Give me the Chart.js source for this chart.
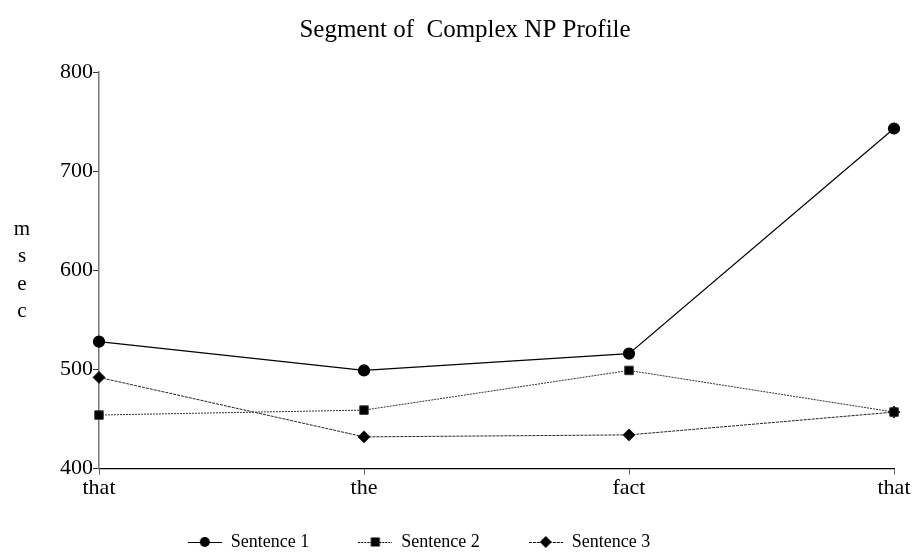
<!DOCTYPE html>
<html>
<head>
<meta charset="utf-8">
<script src="https://cdn.jsdelivr.net/npm/chart.js@4.4.1/dist/chart.umd.min.js"></script>
<style>
  html, body { margin: 0; padding: 0; background: #fff; }
  #wrap { width: 914px; height: 552px; position: relative; }
</style>
</head>
<body>
<div id="wrap"><canvas id="profile-chart"></canvas></div>
<script>
// Segment of Complex NP Profile
// ------------------------------
var words = ["that", "the", "fact", "that"];
var sentence1 = [528, 499, 516, 743];
var sentence2 = [454, 459, 499, 457];
var sentence3 = [492, 432, 434, 457];
var yTicks = [400, 500, 600, 700, 800];
var yTitle = ["m", "s", "e", "c"];

var serif = "'Liberation Serif', 'Times New Roman', serif";

// small legend glyph: line with the marker in the middle
function legendGlyph(style, dash) {
    var c = document.createElement("canvas");
    c.width = 34; c.height = 14;
    var g = c.getContext("2d");
    g.strokeStyle = "#000";
    g.lineWidth = 1;
    g.setLineDash(dash);
    g.beginPath(); g.moveTo(0, 7.5); g.lineTo(34, 7.5); g.stroke();
    g.fillStyle = "#000";
    g.beginPath();
    if (style === "circle") g.arc(17, 7, 5, 0, Math.PI * 2);
    else if (style === "rect") g.rect(12.5, 2.5, 9, 9);
    else { g.moveTo(17, 1); g.lineTo(23, 7); g.lineTo(17, 13); g.lineTo(11, 7); g.closePath(); }
    g.fill();
    return c;
}

var glyphs = [
    legendGlyph("circle", []),
    legendGlyph("rect", [2, 1]),
    legendGlyph("diamond", [3, 1])
];

// vertical stacked axis title + nudging title / legend like the original
var yTitlePlugin = {
    id: "yTitle",
    afterLayout: function(chart) {
        var lg = chart.legend;
        lg.left -= 58; lg.right -= 58;
        lg.top = 484;
        var tb = chart.titleBlock;
        tb.left -= 12; tb.right -= 12;
    },
    afterDraw: function(chart) {
        var ctx = chart.ctx, area = chart.chartArea;
        var mid = (area.top + area.bottom) / 2;
        var step = 27.5;
        ctx.save();
        ctx.fillStyle = "#000";
        ctx.font = "21px " + serif;
        ctx.textAlign = "center";
        ctx.textBaseline = "middle";
        yTitle.forEach(function(ch, i) {
            ctx.fillText(ch, 22, mid + (i - (yTitle.length - 1) / 2) * step);
        });
        ctx.restore();
    }
};

var ctx = document.getElementById("profile-chart");

var chartData = {
    labels: words,
    datasets: [{
        label: "Sentence 1",
        data: sentence1,
        borderColor: "#000",
        backgroundColor: "#000",
        borderWidth: 1.2,
        pointStyle: "circle",
        pointRadius: 5.5,
        pointHoverRadius: 5.5
    }, {
        label: "Sentence 2",
        data: sentence2,
        borderColor: "#333",
        backgroundColor: "#000",
        borderWidth: 1,
        borderDash: [2, 1],
        pointStyle: "rect",
        pointRadius: 6,
        pointHoverRadius: 6
    }, {
        label: "Sentence 3",
        data: sentence3,
        borderColor: "#222",
        backgroundColor: "#000",
        borderWidth: 1,
        borderDash: [3, 1],
        pointStyle: "rectRot",
        pointRadius: 6,
        pointHoverRadius: 6
    }]
};

var chartOptions = {
    responsive: true,
    maintainAspectRatio: false,
    animation: false,
    layout: { padding: { left: 60, right: 20, top: 12, bottom: -26 } },
    plugins: {
        title: {
            display: true,
            text: "Segment of  Complex NP Profile",
            color: "#000",
            font: { family: serif, size: 25, weight: "normal" },
            padding: { top: 3, bottom: 27 }
        },
        legend: {
            position: "bottom",
            labels: {
                color: "#000",
                font: { family: serif, size: 18 },
                usePointStyle: true,
                pointStyleWidth: 34,
                padding: 49,
                generateLabels: function(chart) {
                    var items = Chart.defaults.plugins.legend.labels.generateLabels(chart);
                    items.forEach(function(it, i) { it.pointStyle = glyphs[i]; });
                    return items;
                }
            }
        },
        tooltip: { enabled: false }
    },
    scales: {
        x: {
            type: "category",
            offset: false,
            border: { color: "#000", width: 1.2 },
            grid: { drawOnChartArea: false, drawTicks: true, tickLength: 6, color: "#666", offset: false },
            ticks: { color: "#000", font: { family: serif, size: 22 }, padding: 0, maxRotation: 0 }
        },
        y: {
            min: 400,
            max: 800,
            border: { color: "#777", width: 1.5 },
            grid: { drawOnChartArea: false, drawTicks: true, tickLength: 6, color: "#333" },
            afterBuildTicks: function(axis) {
                axis.ticks = yTicks.map(function(v) { return { value: v }; });
            },
            ticks: { color: "#000", font: { family: serif, size: 22 }, padding: 0 }
        }
    }
};

var config = {
    type: "line",
    data: chartData,
    options: chartOptions,
    plugins: [yTitlePlugin]
};

var profileChart = new Chart(ctx, config);
</script>
</body>
</html>
